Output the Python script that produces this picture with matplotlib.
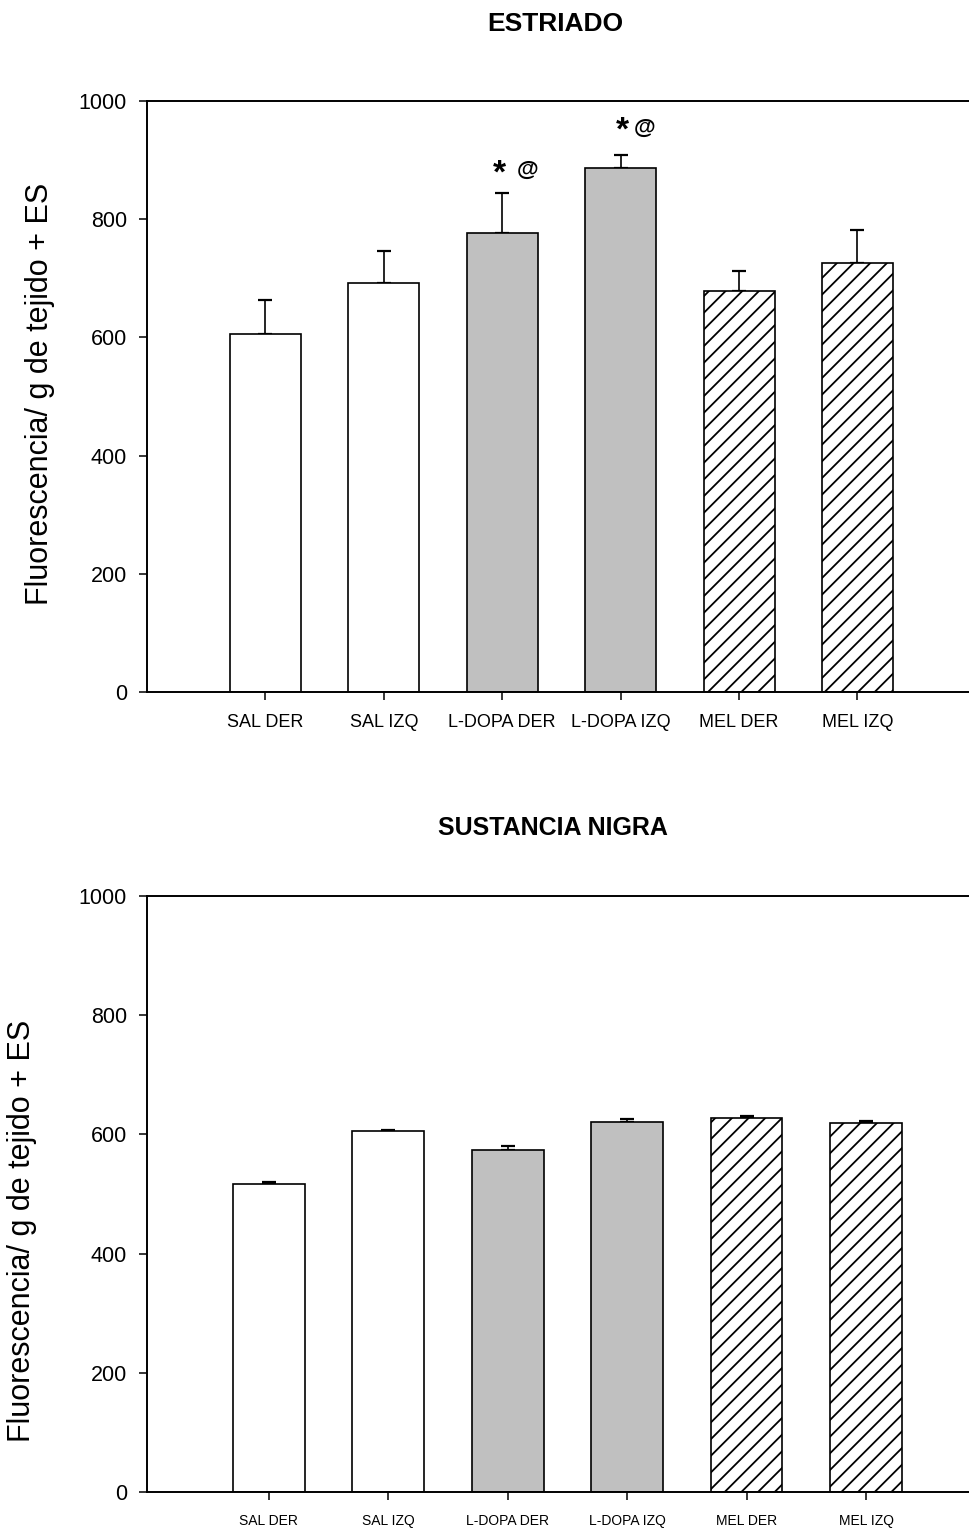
import numpy as np
import matplotlib
matplotlib.use("Agg")
import matplotlib.pyplot as plt
from matplotlib import rc

rc('font', family=['Liberation Sans', 'DejaVu Sans'])
rc('hatch', linewidth=1.3)

# data
grupos = ['SAL DER', 'SAL IZQ', 'L-DOPA DER', 'L-DOPA IZQ', 'MEL DER', 'MEL IZQ']
estriado = [606, 692, 777, 887, 678, 726]
estriado_es = [57, 55, 68, 22, 34, 55]
nigra = [516, 606, 573, 620, 628, 619]
nigra_es = [4, 2, 8, 6, 3, 4]

colores = ['white', 'white', '#c0c0c0', '#c0c0c0', 'white', 'white']
rayas = [None, None, None, None, '//', '//']

fig = plt.figure(figsize=(9.7, 15.29), dpi=100)
ax1 = fig.add_axes([0.1515, 0.5474, 0.8485, 0.3865])
ax2 = fig.add_axes([0.1515, 0.0242, 0.8485, 0.3898])


def panel(ax, vals, es, xlim, fs_x):
    x = np.arange(len(vals))
    ax.bar(x, vals, width=0.6, color=colores, edgecolor='black',
           linewidth=1.2, hatch=rayas, zorder=2)
    ax.errorbar(x, vals, yerr=[np.zeros(len(es)), es], fmt='none',
                ecolor='black', elinewidth=1.2, capsize=5, capthick=1.6, zorder=1)
    ax.set_xlim(*xlim)
    ax.set_ylim(0, 1000)
    ax.set_yticks([0, 200, 400, 600, 800, 1000])
    ax.set_xticks(x)
    ax.set_xticklabels(grupos, fontsize=fs_x)
    ax.tick_params(axis='y', labelsize=15.5, direction='out', length=6, width=1.1, pad=8.5)
    ax.tick_params(axis='x', direction='out', length=6, width=1.1, pad=10)
    ax.spines['right'].set_visible(False)
    for s in ['left', 'bottom', 'top']:
        ax.spines[s].set_linewidth(1.4)


panel(ax1, estriado, estriado_es, (-1.0, 5.95), 13)
panel(ax2, nigra, nigra_es, (-1.02, 5.87), 10)

# significance marks
ax1.text(1.98, 876, '*', fontsize=24, fontweight='bold', ha='center', va='center')
ax1.text(2.21, 882, '@', fontsize=16, fontweight='bold', ha='center', va='center')
ax1.text(3.016, 950, '*', fontsize=24, fontweight='bold', ha='center', va='center')
ax1.text(3.20, 954, '@', fontsize=16, fontweight='bold', ha='center', va='center')

fig.text(555 / 970, 1 - 24 / 1529, 'ESTRIADO', fontsize=19, fontweight='bold',
         ha='center', va='center')
fig.text(553 / 970, 1 - 828 / 1529, 'SUSTANCIA NIGRA', fontsize=18, fontweight='bold',
         ha='center', va='center')
fig.text(40 / 970, 1 - 394 / 1529, 'Fluorescencia/ g de tejido + ES', fontsize=22,
         rotation=90, ha='center', va='center')
fig.text(22 / 970, 1 - 1231 / 1529, 'Fluorescencia/ g de tejido + ES', fontsize=22,
         rotation=90, ha='center', va='center')

plt.savefig('out.png', dpi=100)
